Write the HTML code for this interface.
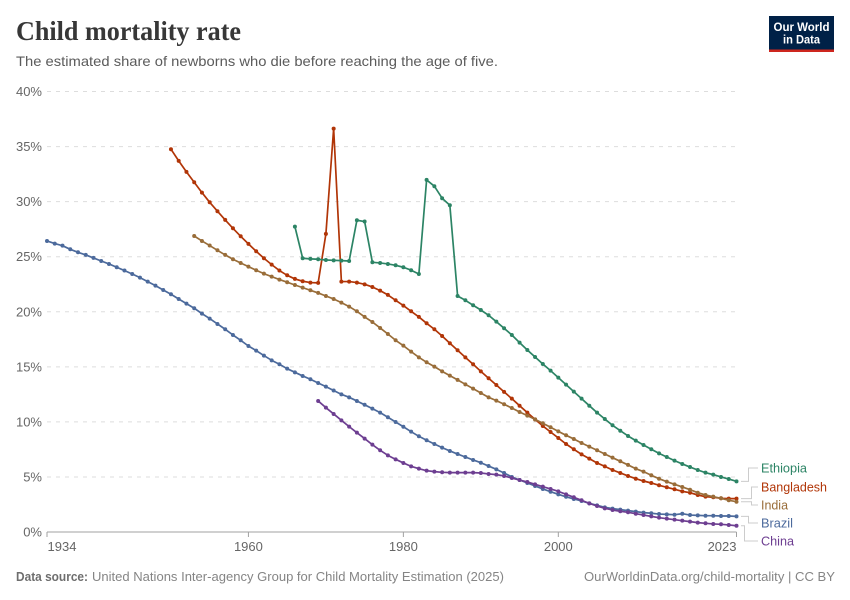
<!DOCTYPE html>
<html lang="en">
<head>
<meta charset="utf-8">
<title>Child mortality rate</title>
<style>
html,body{margin:0;padding:0;background:#fff;}
svg{display:block;font-family:"Liberation Sans",sans-serif;}
</style>
</head>
<body>
<svg id="chart" width="850" height="600" viewBox="0 0 850 600" xmlns="http://www.w3.org/2000/svg">
  <text x="16" y="40" font-family="'Liberation Serif',serif" font-weight="700" font-size="27" fill="#373737" textLength="225" lengthAdjust="spacingAndGlyphs">Child mortality rate</text>
  <text x="16" y="66" font-size="14" fill="#5b5b5b" textLength="482" lengthAdjust="spacingAndGlyphs">The estimated share of newborns who die before reaching the age of five.</text>

  <g>
    <rect x="769" y="16" width="65" height="33.5" fill="#002147"/>
    <rect x="769" y="49.5" width="65" height="2.5" fill="#ce261e"/>
    <text x="801.5" y="31" text-anchor="middle" font-size="12" font-weight="700" fill="#fff" textLength="56" lengthAdjust="spacingAndGlyphs">Our World</text>
    <text x="801.5" y="43.5" text-anchor="middle" font-size="12" font-weight="700" fill="#fff" textLength="37" lengthAdjust="spacingAndGlyphs">in Data</text>
  </g>

  <g id="grid"></g>
  <g id="xaxis"></g>
  <g id="connectors"></g>
  <g id="series"></g>
  <g id="labels"></g>

  <text x="16" y="581" font-size="13" font-weight="700" fill="#6e6e6e" textLength="72" lengthAdjust="spacingAndGlyphs">Data source:</text>
  <text x="92" y="581" font-size="13" fill="#858585" textLength="412" lengthAdjust="spacingAndGlyphs">United Nations Inter-agency Group for Child Mortality Estimation (2025)</text>
  <text x="584" y="581" font-size="13" fill="#858585" textLength="251" lengthAdjust="spacingAndGlyphs">OurWorldinData.org/child-mortality | CC BY</text>
</svg>
<script>
const yTickValues = [0, 5, 10, 15, 20, 25, 30, 35, 40];
const xTickYears = [1934, 1960, 1980, 2000, 2023];

const bangladeshStart = 1950;
const bangladeshValues = [34.76,33.7,32.7,31.76,30.82,29.94,29.13,28.34,27.58,26.85,26.16,25.49,24.86,24.28,23.74,23.31,22.98,22.77,22.65,22.62,27.07,36.63,22.74,22.74,22.65,22.49,22.25,21.92,21.53,21.04,20.56,20.04,19.53,18.95,18.41,17.8,17.14,16.5,15.86,15.23,14.59,13.96,13.35,12.72,12.11,11.47,10.84,10.23,9.63,9.08,8.54,7.99,7.51,7.05,6.66,6.27,5.96,5.63,5.36,5.09,4.84,4.63,4.45,4.24,4.06,3.88,3.69,3.57,3.36,3.21,3.15,3.06,3.03,3.03];

const brazilStart = 1934;
const brazilValues = [26.43,26.19,26.0,25.67,25.4,25.16,24.89,24.61,24.34,24.04,23.74,23.43,23.1,22.74,22.37,21.98,21.59,21.16,20.74,20.32,19.83,19.38,18.89,18.41,17.89,17.41,16.89,16.47,16.02,15.59,15.23,14.83,14.5,14.17,13.87,13.53,13.2,12.85,12.5,12.23,11.9,11.55,11.2,10.84,10.42,9.99,9.56,9.11,8.69,8.33,7.99,7.66,7.36,7.08,6.81,6.54,6.29,5.99,5.69,5.36,5.0,4.72,4.45,4.18,3.91,3.66,3.42,3.2,3.0,2.82,2.6,2.42,2.24,2.12,2.03,1.94,1.85,1.76,1.7,1.63,1.6,1.57,1.66,1.54,1.51,1.48,1.48,1.45,1.45,1.42];

const chinaStart = 1969;
const chinaValues = [11.9,11.29,10.72,10.14,9.57,9.02,8.48,7.93,7.42,6.96,6.6,6.27,5.96,5.75,5.57,5.48,5.42,5.39,5.39,5.39,5.39,5.36,5.27,5.21,5.09,4.9,4.72,4.54,4.33,4.12,3.91,3.69,3.42,3.15,2.88,2.6,2.36,2.15,2.0,1.88,1.79,1.66,1.54,1.42,1.3,1.21,1.12,1.03,0.94,0.85,0.79,0.73,0.7,0.64,0.57];

const ethiopiaStart = 1966;
const ethiopiaValues = [27.73,24.86,24.8,24.77,24.7,24.67,24.64,24.61,28.31,28.19,24.49,24.43,24.34,24.22,24.04,23.77,23.43,31.97,31.4,30.31,29.67,21.43,21.04,20.59,20.16,19.68,19.1,18.5,17.89,17.2,16.53,15.89,15.26,14.65,14.02,13.38,12.75,12.11,11.47,10.84,10.26,9.69,9.2,8.72,8.3,7.9,7.51,7.14,6.81,6.48,6.18,5.9,5.63,5.39,5.21,5.0,4.81,4.6];

const indiaStart = 1953;
const indiaValues = [26.88,26.43,26.01,25.58,25.16,24.77,24.43,24.1,23.77,23.46,23.19,22.92,22.68,22.43,22.19,21.95,21.71,21.43,21.16,20.83,20.47,20.04,19.53,19.07,18.53,17.98,17.41,16.92,16.38,15.86,15.41,15.02,14.59,14.2,13.81,13.41,13.02,12.62,12.23,11.93,11.6,11.26,10.9,10.57,10.23,9.87,9.51,9.14,8.78,8.45,8.08,7.75,7.42,7.08,6.75,6.42,6.09,5.75,5.48,5.15,4.84,4.57,4.33,4.09,3.84,3.57,3.36,3.21,3.06,2.88,2.75];

const NS = 'http://www.w3.org/2000/svg';
const xScale = function (year) { return 47 + (year - 1934) * (689.5 / 89); };
const yScale = function (pct) { return 532 - pct * (440.5 / 40); };

function make(tag, parent, attrs) {
  const el = document.createElementNS(NS, tag);
  for (const k in attrs) el.setAttribute(k, attrs[k]);
  parent.appendChild(el);
  return el;
}

const gridGroup = document.getElementById('grid');
yTickValues.forEach(function (v) {
  if (v !== 0) {
    const line = make('line', gridGroup, { x1: 47, x2: 737, y1: yScale(v), y2: yScale(v), stroke: '#dddddd', 'stroke-width': 1, 'stroke-dasharray': '4 5' });
    
    
  }
  const label = make('text', gridGroup, { x: 42, y: yScale(v) + 4.5, 'text-anchor': 'end', 'font-size': 13, fill: '#666666' });
  
  
  label.textContent = v + '%';
});

const axisGroup = document.getElementById('xaxis');
const axisLine = make('line', axisGroup, { x1: xScale(1934), x2: xScale(2023), y1: 532, y2: 532, stroke: '#a1a1a1', 'stroke-width': 1 });


xTickYears.forEach(function (yr, i) {
  const tick = make('line', axisGroup, { x1: xScale(yr), x2: xScale(yr), y1: 532, y2: 537, stroke: '#a1a1a1', 'stroke-width': 1 });
  
  
  const anchor = i === 0 ? 'start' : (i === xTickYears.length - 1 ? 'end' : 'middle');
  const label = make('text', axisGroup, { x: xScale(yr) + (i === 0 ? 0.5 : 0), y: 551, 'text-anchor': anchor, 'font-size': 13, fill: '#666666' });
  
  
  label.textContent = yr;
});

const seriesGroup = document.getElementById('series');
const connectorGroup = document.getElementById('connectors');
const labelGroup = document.getElementById('labels');

function drawSeries(key, name, start, values, color) {
  const g = make('g', seriesGroup, {});
  
  
  const d = values.map(function (v, i) {
    return (i ? 'L' : 'M') + xScale(start + i).toFixed(2) + ',' + yScale(v).toFixed(2);
  }).join('');
  const path = make('path', g, { d: d, fill: 'none', stroke: color, 'stroke-width': 1.7, 'stroke-linejoin': 'round' });
  
  
  values.forEach(function (v, i) {
    const dot = make('circle', g, { cx: xScale(start + i).toFixed(2), cy: yScale(v).toFixed(2), r: 2, fill: color });
    
    
  });
}

function drawLabel(key, name, values, color, elbowX, labelY, width) {
  const y = yScale(values[values.length - 1]).toFixed(2);
  const c = make('path', connectorGroup, { d: 'M741,' + y + 'H' + elbowX + 'V' + labelY + 'H758', fill: 'none', stroke: '#cccccc', 'stroke-width': 1 });
  
  
  const t = make('text', labelGroup, { x: 761, y: labelY + 4.5, 'font-size': 13, fill: color, textLength: width, lengthAdjust: 'spacingAndGlyphs' });
  
  
  t.textContent = name;
}

drawSeries('bangladesh', 'Bangladesh', bangladeshStart, bangladeshValues, '#b13507');
drawSeries('brazil', 'Brazil', brazilStart, brazilValues, '#4c6a9c');
drawSeries('china', 'China', chinaStart, chinaValues, '#6d3e91');
drawSeries('ethiopia', 'Ethiopia', ethiopiaStart, ethiopiaValues, '#2c8465');
drawSeries('india', 'India', indiaStart, indiaValues, '#996d39');

drawLabel('ethiopia', 'Ethiopia', ethiopiaValues, '#2c8465', 748.5, 468, 46);
drawLabel('bangladesh', 'Bangladesh', bangladeshValues, '#b13507', 751.5, 487, 66);
drawLabel('india', 'India', indiaValues, '#996d39', 751.5, 505, 27);
drawLabel('brazil', 'Brazil', brazilValues, '#4c6a9c', 748.5, 523, 32);
drawLabel('china', 'China', chinaValues, '#6d3e91', 744.5, 541, 33);
</script>
</body>
</html>
